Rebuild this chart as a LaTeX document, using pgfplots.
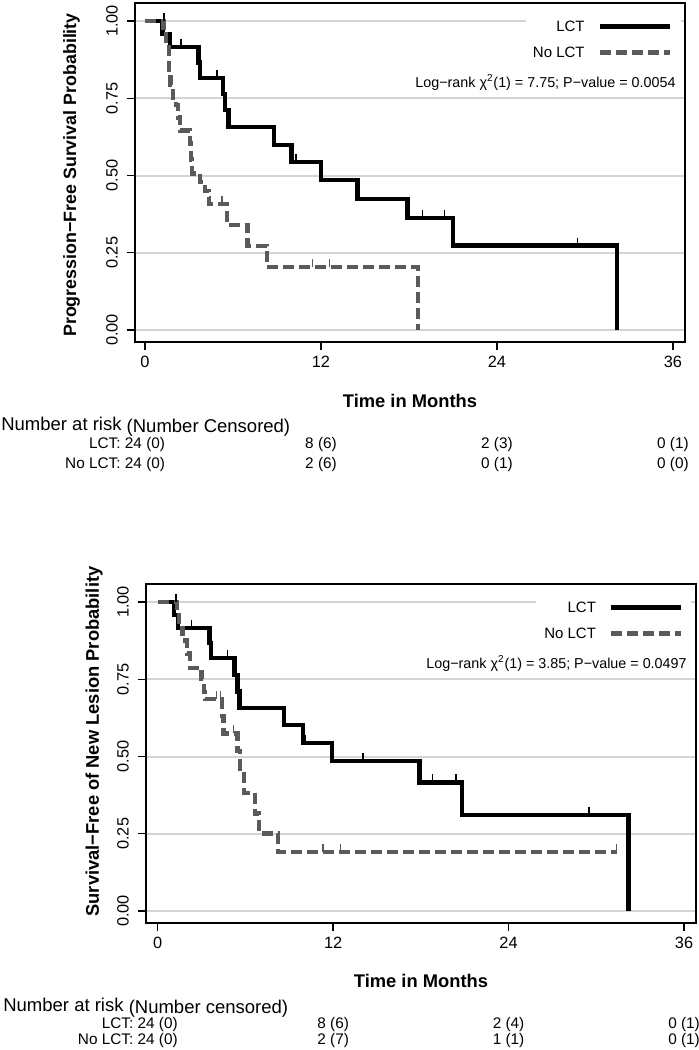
\documentclass[border=0pt]{standalone}
\usepackage{fontspec}
\setmainfont{Liberation Sans}
\usepackage{pgfplots}
\pgfplotsset{compat=1.18}
\definecolor{graycol}{HTML}{5A5A5A}
\definecolor{gridc}{HTML}{D4D4D4}
\newcommand{\tickfont}{\fontsize{9.8}{11}\selectfont}
\newcommand{\labfont}{\fontsize{11}{13}\selectfont\bfseries}
\newcommand{\ylabfont}{\fontsize{10.7}{13}\selectfont\bfseries}
\newcommand{\legfont}{\fontsize{9}{10}\selectfont}
\newcommand{\lrfont}{\fontsize{8.6}{10}\selectfont}
\newcommand{\hdrfont}{\fontsize{11.1}{13}\selectfont}
\newcommand{\rowfont}{\fontsize{9.2}{11}\selectfont}
\pgfplotsset{
  kmaxis/.style={
    scale only axis, width=330pt, height=203.4pt,
    ymin=-0.0388, ymax=1.0583,
    clip=false,
    axis line style={line width=1pt},
    xtick={0,12,24,36}, xticklabels={0,12,24,36},
    ytick={0,0.25,0.5,0.75,1}, yticklabels={0.00,0.25,0.50,0.75,1.00},
    xtick pos=bottom, ytick pos=left,
    tick align=outside, major tick length=4.8pt,
    tick style={black, line width=0.8pt},
    xticklabel style={font=\tickfont},
    yticklabel style={font=\tickfont, rotate=90, anchor=south},
    yticklabel shift=2pt,
    ymajorgrids, major grid style={gridc, line width=1.2pt},
  },
  lctline/.style={black, line width=2.6pt, const plot, mark=none},
  nolctline/.style={graycol, line width=2.6pt, const plot, mark=none, dash pattern=on 6.6pt off 3pt},
  lctc/.style={black, only marks, mark=|, mark size=2.4pt, mark options={line width=0.8pt, yshift=2.4pt}},
  nolctc/.style={graycol, only marks, mark=|, mark size=2.4pt, mark options={line width=0.8pt, yshift=2.4pt}},
}
\begin{document}
\begin{tikzpicture}
\path[use as bounding box] (0,0) rectangle (419.4pt,-630pt);

% ---------------- Top plot ----------------
\begin{axis}[kmaxis, at={(81pt,-205.2pt)}, anchor=south west,
  xmin=-0.682, xmax=36.82]
\fill[white] (axis cs:26.0,0.985) rectangle (axis cs:36.54,1.015);
\addplot[lctline] coordinates {
(0,1) (1.2,0.958) (1.7,0.917) (3.65,0.866) (3.75,0.815) (5.3,0.764) (5.45,0.712)
(5.7,0.656) (8.8,0.598) (10.0,0.543) (12.0,0.485) (14.5,0.425) (17.9,0.363)
(21.0,0.273) (32.2,0.273) (32.2,0)};
\addplot[nolctline] coordinates {
(0,1) (1.25,0.958) (1.45,0.917) (1.65,0.833) (1.75,0.792) (1.9,0.75) (2.1,0.729)
(2.25,0.688) (2.4,0.646) (3.05,0.604) (3.15,0.552) (3.2,0.507) (3.75,0.478)
(4.1,0.449) (4.35,0.407) (5.6,0.339) (7.0,0.271) (8.3,0.203) (18.6,0.203) (18.6,0)};
\addplot[lctc] coordinates {(1.3,1) (2.45,0.917) (4.9,0.815) (10.3,0.543) (18.9,0.363) (20.4,0.363) (29.5,0.273)};
\addplot[nolctc] coordinates {(4.43,0.407) (5.25,0.407) (11.4,0.203) (12.6,0.203)};
% legend
\draw[black, line width=2.6pt] (axis cs:31.0,0.982) -- (axis cs:35.8,0.982);
\node[anchor=east, inner sep=0pt, font=\legfont] at (axis cs:30.0,0.982) {LCT};
\draw[graycol, line width=2.6pt, dash pattern=on 6.6pt off 3pt] (axis cs:31.0,0.898) -- (axis cs:35.8,0.898);
\node[anchor=east, inner sep=0pt, font=\legfont] at (axis cs:30.0,0.898) {No LCT};
\node[anchor=base east, inner sep=0pt, font=\lrfont] at (axis cs:36.2,0.785) {Log−rank χ\textsuperscript{2}(1) = 7.75; P−value = 0.0054};
% labels
\node[font=\labfont, inner sep=0pt] at ([yshift=-35.5pt]axis description cs:0.5,0) {Time in Months};
\path (axis description cs:0,0.5) ++(-38.1pt,-1.5pt) node[rotate=90, inner sep=0pt, font=\ylabfont] {Progression−Free Survival Probability};
% risk table
\node[anchor=base west, inner sep=0pt, font=\hdrfont] at (axis cs:-9.82,-0.3236) {Number at risk \raisebox{-1.4pt}{(Number Censored)}};
\node[anchor=base east, inner sep=0pt, font=\rowfont] at (axis cs:-1.64,-0.383) {LCT:};
\node[anchor=base east, inner sep=0pt, font=\rowfont] at (axis cs:-1.64,-0.4476) {No LCT:};
\node[anchor=base, inner sep=0pt, font=\rowfont] at (axis cs:0,-0.383) {24 (0)};
\node[anchor=base, inner sep=0pt, font=\rowfont] at (axis cs:12,-0.383) {8 (6)};
\node[anchor=base, inner sep=0pt, font=\rowfont] at (axis cs:24,-0.383) {2 (3)};
\node[anchor=base, inner sep=0pt, font=\rowfont] at (axis cs:36,-0.383) {0 (1)};
\node[anchor=base, inner sep=0pt, font=\rowfont] at (axis cs:0,-0.4476) {24 (0)};
\node[anchor=base, inner sep=0pt, font=\rowfont] at (axis cs:12,-0.4476) {2 (6)};
\node[anchor=base, inner sep=0pt, font=\rowfont] at (axis cs:24,-0.4476) {0 (1)};
\node[anchor=base, inner sep=0pt, font=\rowfont] at (axis cs:36,-0.4476) {0 (0)};
\end{axis}

% ---------------- Bottom plot ----------------
\begin{axis}[kmaxis, at={(87.6pt,-553.8pt)}, anchor=south west,
  xmin=-0.80, xmax=36.82]
\fill[white] (axis cs:25.9,0.985) rectangle (axis cs:36.5,1.015);
\addplot[lctline] coordinates {
(0,1) (1.1,0.958) (1.4,0.917) (3.55,0.867) (3.65,0.818) (5.25,0.764) (5.45,0.71)
(5.6,0.656) (8.63,0.602) (9.95,0.543) (11.93,0.485) (17.9,0.416) (20.8,0.311)
(32.2,0.311) (32.2,0)};
\addplot[nolctline] coordinates {
(0,1) (1.3,0.958) (1.45,0.917) (1.7,0.875) (2.0,0.833) (2.2,0.786) (3.0,0.75)
(3.15,0.708) (3.25,0.686) (4.4,0.632) (4.5,0.575) (5.45,0.518) (5.65,0.46)
(5.9,0.383) (6.65,0.316) (6.95,0.251) (8.25,0.19) (31.4,0.19)};
\addplot[lctc] coordinates {(1.25,1) (2.3,0.917) (4.76,0.818) (10.1,0.543) (14.05,0.485) (18.8,0.416) (20.4,0.416) (29.5,0.311)};
\addplot[nolctc] coordinates {(4.0,0.686) (4.3,0.686) (5.2,0.575) (11.3,0.19) (12.5,0.19) (31.4,0.19)};
% legend
\draw[black, line width=2.6pt] (axis cs:31.0,0.982) -- (axis cs:35.8,0.982);
\node[anchor=east, inner sep=0pt, font=\legfont] at (axis cs:30.0,0.982) {LCT};
\draw[graycol, line width=2.6pt, dash pattern=on 6.6pt off 3pt] (axis cs:31.0,0.898) -- (axis cs:35.8,0.898);
\node[anchor=east, inner sep=0pt, font=\legfont] at (axis cs:30.0,0.898) {No LCT};
\node[anchor=base east, inner sep=0pt, font=\lrfont] at (axis cs:36.2,0.785) {Log−rank χ\textsuperscript{2}(1) = 3.85; P−value = 0.0497};
% labels
\node[font=\labfont, inner sep=0pt] at ([yshift=-34.5pt]axis description cs:0.5,0) {Time in Months};
\path (axis description cs:0,0.5) ++(-38.1pt,0) node[rotate=90, inner sep=0pt, font=\labfont] {Survival−Free of New Lesion Probability};
% risk table
\node[anchor=base west, inner sep=0pt, font=\hdrfont] at (axis cs:-10.58,-0.3236) {Number at risk \raisebox{-1.4pt}{(Number censored)}};
\node[anchor=base east, inner sep=0pt, font=\rowfont] at (axis cs:-1.64,-0.3786) {LCT:};
\node[anchor=base east, inner sep=0pt, font=\rowfont] at (axis cs:-1.64,-0.4304) {No LCT:};
\node[anchor=base, inner sep=0pt, font=\rowfont] at (axis cs:0,-0.3786) {24 (0)};
\node[anchor=base, inner sep=0pt, font=\rowfont] at (axis cs:12,-0.3786) {8 (6)};
\node[anchor=base, inner sep=0pt, font=\rowfont] at (axis cs:24,-0.3786) {2 (4)};
\node[anchor=base, inner sep=0pt, font=\rowfont] at (axis cs:36,-0.3786) {0 (1)};
\node[anchor=base, inner sep=0pt, font=\rowfont] at (axis cs:0,-0.4304) {24 (0)};
\node[anchor=base, inner sep=0pt, font=\rowfont] at (axis cs:12,-0.4304) {2 (7)};
\node[anchor=base, inner sep=0pt, font=\rowfont] at (axis cs:24,-0.4304) {1 (1)};
\node[anchor=base, inner sep=0pt, font=\rowfont] at (axis cs:36,-0.4304) {0 (1)};
\end{axis}
\end{tikzpicture}
\end{document}
